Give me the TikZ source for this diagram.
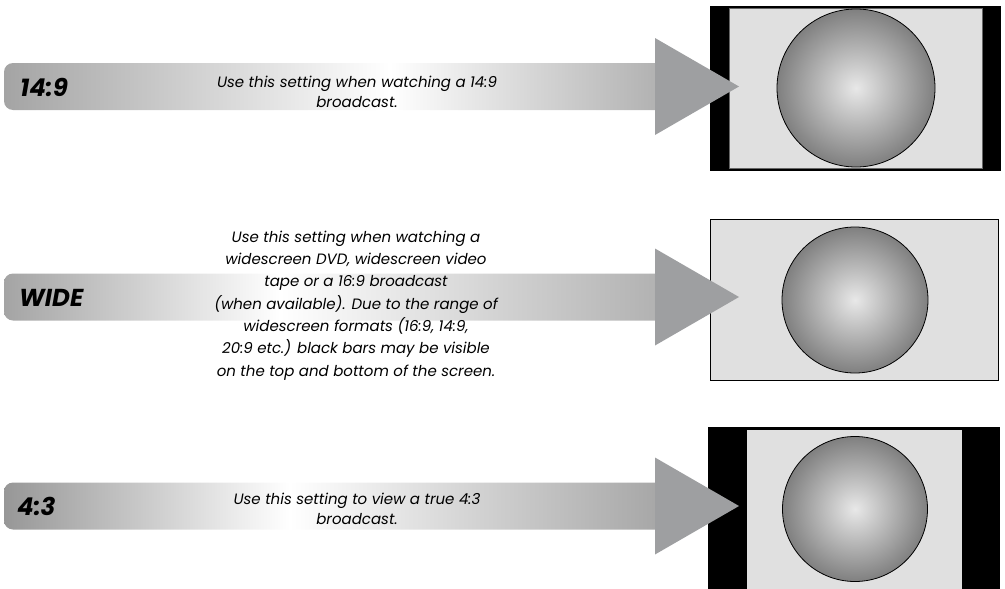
\documentclass[tikz,border=0pt]{standalone}
\usepackage{fontspec}
\setmainfont{Poppins}
\definecolor{scr}{HTML}{E0E0E0}
\definecolor{ahead}{HTML}{9E9FA1}
\definecolor{barL}{HTML}{A4A4A4}
\definecolor{barR}{HTML}{B2B2B2}
\pgfdeclarehorizontalshading{barA}{100bp}{color(0bp)=(barL); color(25bp)=(barL); color(54.6bp)=(white); color(75bp)=(barR); color(100bp)=(barR)}
\pgfdeclarehorizontalshading{barB}{100bp}{color(0bp)=(barL); color(25bp)=(barL); color(46.2bp)=(white); color(75bp)=(barR); color(100bp)=(barR)}
\pgfdeclarehorizontalshading{barC}{100bp}{color(0bp)=(barL!92!black); color(25bp)=(barL!92!black); color(46.9bp)=(white); color(75bp)=(barR!94!black); color(100bp)=(barR!94!black)}
% #1 centre y, #2 shading
\newcommand\bararrow[2]{%
  \shade[shading=#2, rounded corners=9]
    (656,#1-23.5) -- (4,#1-23.5) -- (4,#1+23.5) -- (656,#1+23.5);
}
\newcommand\arrowtip[1]{%
  \fill[ahead] (655,#1-48.5) -- (739,#1) -- (655,#1+48.5) -- cycle;
}
\begin{document}
\begin{tikzpicture}[x=1pt,y=-1pt,
  desc/.style={font=\fontsize{15}{20}\selectfont\itshape, align=center, inner sep=0pt},
  lbl/.style={font=\fontsize{24.5}{24.5}\selectfont\bfseries\itshape, anchor=base west, inner sep=0pt},
  sphere/.style={inner color=black!9, outer color=black!50, draw=black, line width=0.8}]
\useasboundingbox (0,0) rectangle (1005,589);

% bars
\bararrow{86.5}{barA}
\bararrow{297}{barB}
\bararrow{506}{barC}

% screen 1 (14:9)
\fill[black] (711,7) rectangle (1000,170);
\fill[scr, draw=black!60, line width=0.5] (729,8.5) rectangle (982,168.5);
\draw[black, line width=1.2] (711,7) rectangle (1000,170);
\shade[sphere] (856,88) circle (79);
% screen 2 (wide)
\fill[scr, draw=black, line width=1.5] (710.5,219.5) rectangle (998.5,380.5);
\shade[sphere] (855,300) circle (73);
% screen 3 (4:3)
\fill[black] (709,428) rectangle (999,600);
\fill[scr] (747,430) rectangle (962,600);
\draw[black, line width=1.2] (709,428) rectangle (999,600);
\shade[sphere] (855,509) circle (72.5);

% arrow heads
\arrowtip{86.5}
\arrowtip{297}
\arrowtip{506}

% labels
\node[lbl] (l1) at (20,96) {14:9};
\node[lbl] (l2) at (19,306) {WIDE};
\node[lbl] (l3) at (17,515) {4:3};

\node[desc] (d1) at (357,92) {Use this setting when watching a 14:9\\broadcast.};
\node[desc, font=\fontsize{15}{22.3}\selectfont\itshape] (d2) at (356,305.5) {Use this setting when watching a\\widescreen DVD, widescreen video\\tape or a 16:9 broadcast\\(when available). Due to the range of\\widescreen formats (16:9, 14:9,\\20:9 etc.) black bars may be visible\\on the top and bottom of the screen.};
\node[desc] (d3) at (357,509) {Use this setting to view a true 4:3\\broadcast.};
\end{tikzpicture}
\end{document}
